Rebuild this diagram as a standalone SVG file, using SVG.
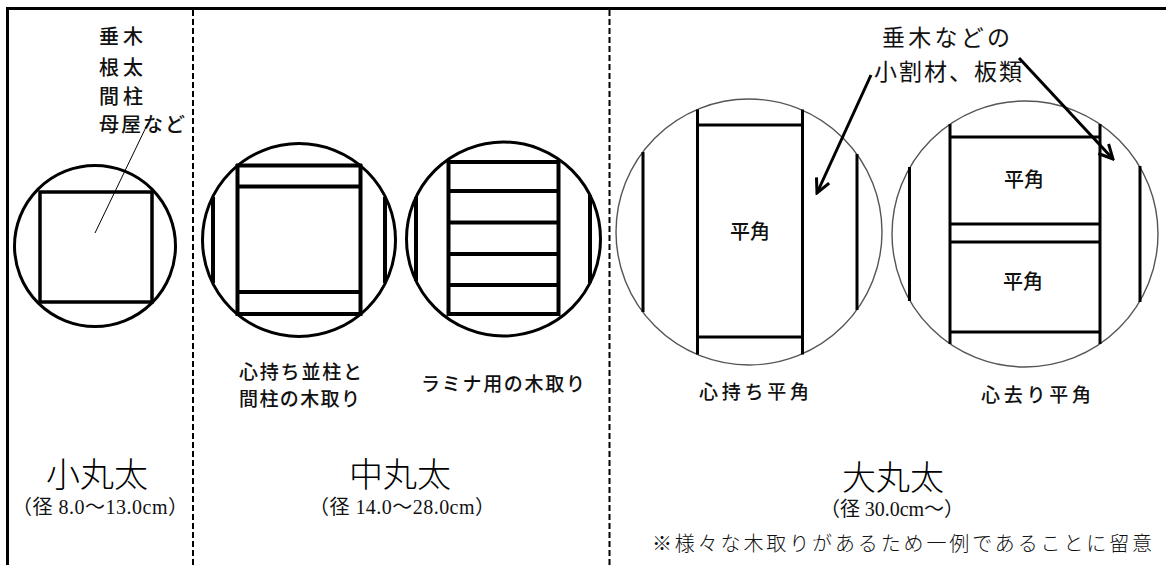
<svg xmlns="http://www.w3.org/2000/svg" width="1166" height="565" viewBox="0 0 1166 565">
<style>
.frame{stroke:#000;stroke-width:3;fill:none}
.div{stroke:#000;stroke-width:2;stroke-dasharray:6 3;fill:none}
.log{fill:none;stroke:#000;stroke-width:3}
.logL{fill:none;stroke:#555;stroke-width:1.4}
.cut{stroke:#000;stroke-width:4;fill:none;stroke-linecap:butt}
.cutL{stroke:#000;stroke-width:3;fill:none}
.g{font-family:"Noto Sans CJK JP","Noto Sans",sans-serif;fill:#111}
.lbl{font-size:19px;font-weight:500}
.sl{font-size:20px;font-weight:500}
.hk{font-size:20px;font-weight:500;text-anchor:middle}
.top{font-size:23px;font-weight:400}
.title{font-family:"Noto Sans CJK JP",sans-serif;font-size:34px;font-weight:300;text-anchor:middle;fill:#000}
.dia{font-family:"Liberation Serif","Noto Sans CJK JP",serif;font-size:20px;text-anchor:middle;fill:#111}
.note{font-family:"Noto Sans CJK JP",sans-serif;font-size:20px;font-weight:300;fill:#111}
.lead{stroke:#000;stroke-width:1;fill:none}
.arr{stroke:#000;stroke-width:3;fill:none;marker-end:url(#ah)}
</style>
<defs>
<marker id="ah" markerUnits="userSpaceOnUse" viewBox="0 0 18 18" markerWidth="18" markerHeight="18" refX="16" refY="9" orient="auto">
<path d="M2,2 L16,9 L2,16" fill="none" stroke="#000" stroke-width="3"/>
</marker>
</defs>
<rect width="1166" height="565" fill="#fff"/>
<g id="frame">
<line class="frame" x1="6" y1="8.5" x2="1166" y2="8.5"/>
<line class="frame" x1="7.5" y1="7" x2="7.5" y2="565"/>
<line class="div" x1="193" y1="10" x2="193" y2="565"/>
<line class="div" x1="609.5" y1="10" x2="609.5" y2="565"/>
</g>
<g id="small-log">
<circle class="log" cx="95" cy="246" r="80.5"/>
<rect class="cut" x="40" y="192" width="112" height="110" style="stroke-width:3.5"/>
</g>
<g id="small-label" class="g sl">
<text x="99" y="44" textLength="44">垂木</text>
<text x="99" y="75" textLength="44">根太</text>
<text x="99" y="104" textLength="44">間柱</text>
<text x="99" y="132" textLength="86">母屋など</text>
</g>
<g id="mid-log-1">
<circle class="log" cx="299" cy="240" r="96.5"/>
<line class="cut" x1="237.5" y1="164" x2="237.5" y2="316"/>
<line class="cut" x1="360.5" y1="164" x2="360.5" y2="316"/>
<line class="cut" x1="236" y1="165.5" x2="362" y2="165.5"/>
<line class="cut" x1="236" y1="186.5" x2="362" y2="186.5"/>
<line class="cut" x1="236" y1="292" x2="362" y2="292"/>
<line class="cut" x1="236" y1="314" x2="362" y2="314"/>
<line class="cut" x1="213" y1="197" x2="213" y2="283"/>
<line class="cut" x1="385" y1="197" x2="385" y2="283"/>
</g>
<g id="mid-log-2">
<circle class="log" cx="503.5" cy="239" r="97"/>
<line class="cut" x1="448.5" y1="160" x2="448.5" y2="316"/>
<line class="cut" x1="558.5" y1="160" x2="558.5" y2="316"/>
<line class="cut" x1="447" y1="162" x2="560" y2="162"/>
<line class="cut" x1="447" y1="191" x2="560" y2="191"/>
<line class="cut" x1="447" y1="222.5" x2="560" y2="222.5"/>
<line class="cut" x1="447" y1="254" x2="560" y2="254"/>
<line class="cut" x1="447" y1="285" x2="560" y2="285"/>
<line class="cut" x1="447" y1="314" x2="560" y2="314"/>
<line class="cut" x1="416" y1="197" x2="416" y2="281"/>
<line class="cut" x1="590" y1="195" x2="590" y2="283"/>
</g>
<g id="mid-labels" class="g lbl">
<text x="239" y="379" textLength="123">心持ち並柱と</text>
<text x="239" y="406" textLength="121">間柱の木取り</text>
<text x="421" y="391" textLength="164">ラミナ用の木取り</text>
</g>
<g id="large-log-1">
<circle class="logL" cx="749" cy="232" r="133"/>
<line class="cutL" x1="697.5" y1="109.5" x2="697.5" y2="354.5"/>
<line class="cutL" x1="802.5" y1="109.5" x2="802.5" y2="354.5"/>
<line class="cutL" x1="697.5" y1="125" x2="802.5" y2="125"/>
<line class="cutL" x1="697.5" y1="337" x2="802.5" y2="337"/>
<line class="cutL" x1="643" y1="152" x2="643" y2="312"/>
<line class="cutL" x1="857" y1="154" x2="857" y2="310"/>
<text class="g hk" x="750" y="239">平角</text>
</g>
<g id="large-log-2">
<circle class="logL" cx="1025" cy="234" r="133"/>
<line class="cutL" x1="950" y1="124" x2="950" y2="344"/>
<line class="cutL" x1="1100" y1="124" x2="1100" y2="344"/>
<line class="cutL" x1="950" y1="137" x2="1100" y2="137"/>
<line class="cutL" x1="950" y1="224" x2="1100" y2="224"/>
<line class="cutL" x1="950" y1="242" x2="1100" y2="242"/>
<line class="cutL" x1="950" y1="332" x2="1100" y2="332"/>
<line class="cutL" x1="909.5" y1="167" x2="909.5" y2="301"/>
<line class="cutL" x1="1140" y1="166" x2="1140" y2="302"/>
<text class="g hk" x="1024" y="187">平角</text>
<text class="g hk" x="1023" y="289">平角</text>
</g>
<g id="large-labels" class="g lbl">
<text x="699" y="399" textLength="110">心持ち平角</text>
<text x="981" y="402" textLength="110">心去り平角</text>
</g>
<g id="top-label" class="g top">
<text x="882" y="46" textLength="128">垂木などの</text>
<text x="874" y="80" textLength="148">小割材、板類</text>
</g>
<g id="titles">
<text class="title" x="97" y="487">小丸太</text>
<text class="dia" x="100" y="514" textLength="176">（径 8.0～13.0cm）</text>
<text class="title" x="400" y="487">中丸太</text>
<text class="dia" x="402" y="514" textLength="186">（径 14.0～28.0cm）</text>
<text class="title" x="893" y="490">大丸太</text>
<text class="dia" x="892" y="516" textLength="144">（径 30.0cm～）</text>
<text class="note" x="652" y="551" textLength="500">※様々な木取りがあるため一例であることに留意</text>
</g>
<g id="connectors">
<line class="lead" x1="95" y1="233" x2="148" y2="123"/>
<line class="arr" x1="871" y1="75" x2="817" y2="193"/>
<line class="arr" x1="1019" y1="58" x2="1113" y2="159"/>
</g>
</svg>
